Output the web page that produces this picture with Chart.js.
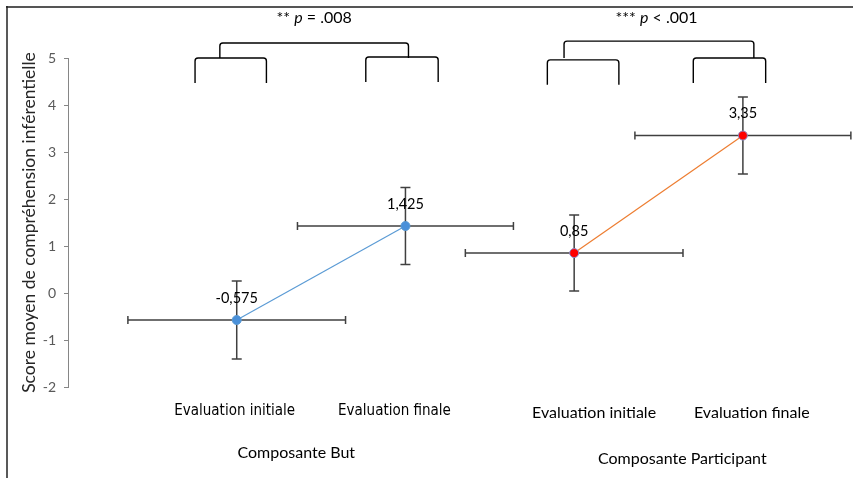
<!DOCTYPE html>
<html><head><meta charset="utf-8">
<script src="https://cdn.jsdelivr.net/npm/chart.js@4"></script>
<style>html,body{margin:0;padding:0;background:#fff;overflow:hidden}canvas{display:block}</style>
</head><body>
<canvas id="c" width="853" height="478"></canvas>
<script>
// ---- data ----
const seriesNames = ['Composante But', 'Composante Participant'];
const xBut = [1, 2];
const yBut = [-0.575, 1.425];
const xPart = [3, 4];
const yPart = [0.85, 3.35];
const yErrBut = [0.83, 0.82];
const yErrPart = [0.81, 0.82];
const xErrBut = [0.645, 0.64];
const xErrPart = [0.645, 0.64];
const categoryLabels = ['Evaluation initiale', 'Evaluation finale'];
const pLabels = [['** ', 'p', ' = .008'], ['*** ', 'p', ' < .001']];
const yTicks = [-2, -1, 0, 1, 2, 3, 4, 5];
const yTitle = 'Score moyen de compréhension inférentielle';

const toPts = (xs, ys) => xs.map((x, i) => ({x, y: ys[i]}));
const fmt = v => String(v).replace('.', ',');

const errs = [
  {xe: xErrBut, ye: yErrBut},
  {xe: xErrPart, ye: yErrPart}
];

const annot = {
  id: 'annot',
  beforeDatasetsDraw(chart) {
    const ctx = chart.ctx, xs = chart.scales.x, ys = chart.scales.y;
    ctx.save();
    ctx.strokeStyle = '#404040';
    ctx.lineWidth = 1.5;
    chart.data.datasets.forEach((ds, i) => {
      ds.data.forEach((p, j) => {
        const px = xs.getPixelForValue(p.x), py = ys.getPixelForValue(p.y);
        const x0 = xs.getPixelForValue(p.x - errs[i].xe[j]);
        const x1 = xs.getPixelForValue(p.x + errs[i].xe[j]);
        const y0 = ys.getPixelForValue(p.y + errs[i].ye[j]);
        const y1 = ys.getPixelForValue(p.y - errs[i].ye[j]);
        ctx.beginPath();
        ctx.moveTo(x0, py); ctx.lineTo(x1, py);
        ctx.moveTo(x0, py - 4); ctx.lineTo(x0, py + 4);
        ctx.moveTo(x1, py - 4); ctx.lineTo(x1, py + 4);
        ctx.moveTo(px, y0); ctx.lineTo(px, y1);
        ctx.moveTo(px - 5, y0); ctx.lineTo(px + 5, y0);
        ctx.moveTo(px - 5, y1); ctx.lineTo(px + 5, y1);
        ctx.stroke();
      });
    });
    ctx.restore();
  },
  afterDraw(chart) {
    const ctx = chart.ctx, xs = chart.scales.x, ys = chart.scales.y;
    const X = v => xs.getPixelForValue(v), Y = v => ys.getPixelForValue(v);
    ctx.save();
    // data labels
    ctx.fillStyle = '#000';
    ctx.font = '14.5px Lato';
    ctx.textAlign = 'center';
    ctx.textBaseline = 'middle';
    chart.data.datasets.forEach(ds => {
      ds.data.forEach(p => {
        ctx.fillText(fmt(p.y), X(p.x), Y(p.y) - 22);
      });
    });
    // brackets
    ctx.strokeStyle = '#000';
    ctx.lineWidth = 1.4;
    const bracket = (a, b, top, bot) => {
      const xa = X(a), xb = X(b), yt = Y(top), yb = Y(bot);
      const r = 3;
      ctx.beginPath();
      ctx.moveTo(xa, yb);
      ctx.lineTo(xa, yt + r);
      ctx.quadraticCurveTo(xa, yt, xa + r, yt);
      ctx.lineTo(xb - r, yt);
      ctx.quadraticCurveTo(xb, yt, xb, yt + r);
      ctx.lineTo(xb, yb);
      ctx.stroke();
    };
    bracket(0.753, 1.176, 5.0, 4.47);
    bracket(1.765, 2.194, 5.02, 4.49);
    bracket(0.9, 2.018, 5.32, 5.0);
    bracket(2.841, 3.265, 4.96, 4.43);
    bracket(3.706, 4.135, 5.0, 4.47);
    bracket(2.94, 4.065, 5.36, 5.0);
    // p labels
    const drawP = (parts, cx, cy) => {
      const fonts = ['16px Lato', 'italic 16px Lato', '16px Lato'];
      let w = 0;
      parts.forEach((t, k) => { ctx.font = fonts[k]; w += ctx.measureText(t).width; });
      let x = cx - w / 2;
      ctx.textAlign = 'left';
      parts.forEach((t, k) => { ctx.font = fonts[k]; ctx.fillText(t, x, cy); x += ctx.measureText(t).width; });
    };
    drawP(pLabels[0], X(1.459), Y(5.85));
    drawP(pLabels[1], X(3.488), Y(5.85));
    // category labels
    ctx.textAlign = 'center';
    ctx.fillStyle = '#000';
    ctx.font = '15px "DejaVu Sans Condensed", Roboto';
    ctx.fillText(categoryLabels[0], X(0.988), Y(-2.51));
    ctx.fillText(categoryLabels[1], X(1.935), Y(-2.51));
    ctx.font = '16px Lato';
    ctx.fillText(categoryLabels[0], X(3.118), Y(-2.55));
    ctx.fillText(categoryLabels[1], X(4.053), Y(-2.55));
    ctx.fillText(seriesNames[0], X(1.353), Y(-3.40));
    ctx.fillText(seriesNames[1], X(3.641), Y(-3.53));
    // frame
    ctx.strokeStyle = '#555';
    ctx.lineWidth = 2;
    ctx.beginPath(); ctx.moveTo(6, 7); ctx.lineTo(853, 7); ctx.stroke();
    ctx.strokeStyle = '#222';
    ctx.lineWidth = 1.5;
    ctx.beginPath(); ctx.moveTo(7, 6); ctx.lineTo(7, 478); ctx.stroke();
    ctx.restore();
  }
};

new Chart(document.getElementById('c'), {
  type: 'scatter',
  data: {
    datasets: [
      {
        label: seriesNames[0], data: toPts(xBut, yBut), showLine: true,
        borderColor: '#5B9BD5', borderWidth: 1.2,
        pointBackgroundColor: '#4A90D9', pointBorderColor: '#5B9BD5',
        pointRadius: 4.5, pointBorderWidth: 1
      },
      {
        label: seriesNames[1], data: toPts(xPart, yPart), showLine: true,
        borderColor: '#ED7D31', borderWidth: 1.2,
        pointBackgroundColor: '#FF0000', pointBorderColor: '#8C8CC8',
        pointRadius: 4.5, pointBorderWidth: 1
      }
    ]
  },
  options: {
    responsive: false, animation: false, devicePixelRatio: 1,
    layout: {padding: {left: 8, top: 58, right: 0, bottom: 91}},
    plugins: {legend: {display: false}, tooltip: {enabled: false}},
    scales: {
      x: {type: 'linear', min: 0, max: 4.62, display: false},
      y: {
        min: -2, max: 5,
        afterFit: s => { s.width = 60; },
        afterBuildTicks: s => { s.ticks = yTicks.map(v => ({value: v})); },
        ticks: {color: '#595959', font: {family: 'Lato', size: 14}, padding: 8},
        grid: {drawOnChartArea: false, drawTicks: true, tickLength: 4, color: '#868686'},
        border: {display: true, color: '#868686', width: 1},
        title: {display: true, text: yTitle, color: '#262626', font: {family: 'Lato', size: 17.5}, padding: {top: 11, bottom: 0}}
      }
    }
  },
  plugins: [annot]
});
</script>
</body></html>
